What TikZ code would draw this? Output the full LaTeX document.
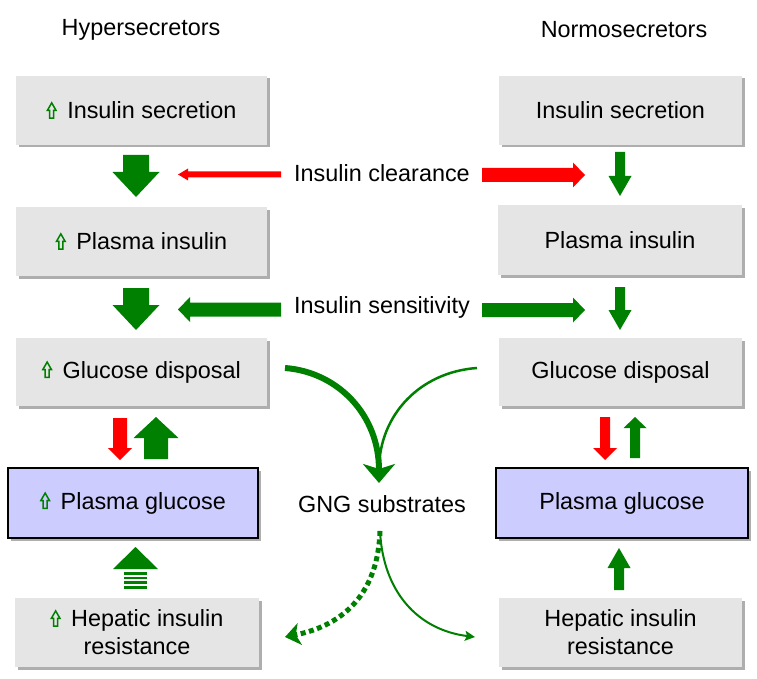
\documentclass[tikz,border=0pt]{standalone}
\usepackage{fontspec}
\setmainfont{Liberation Sans}
\usetikzlibrary{shadows,arrows.meta}
\definecolor{dgreen}{RGB}{0,128,0}
\definecolor{boxgray}{RGB}{229,229,229}
\definecolor{glublue}{RGB}{204,204,255}
\newcommand\uparr{\tikz[baseline=0pt,x=1pt,y=1pt]\draw[dgreen,line width=1.5pt,line join=miter] (-2,0.7)--(2,0.7)--(2,8.5)--(4.3,8.5)--(0,16)--(-4.3,8.5)--(-2,8.5)--cycle;\hspace{10.5pt}}
% style, tail, angle, length, shaft half-width, head half-width, head length
\newcommand\barrow[7]{\fill[#1,shift={#2},rotate=#3] (0,-#5) -- ({#4-#7},-#5) -- ({#4-#7},-#6) -- (#4,0) -- ({#4-#7},#6) -- ({#4-#7},#5) -- (0,#5) -- cycle;}
\begin{document}
\begin{tikzpicture}[x=1pt,y=-1pt,
  every node/.style={font=\fontsize{23.4}{28}\selectfont, inner sep=0pt, outer sep=0pt},
  box/.style={fill=boxgray, align=center, drop shadow={shadow xshift=2.5pt, shadow yshift=-2.5pt, opacity=0.45, fill=black!70}},
  gbox/.style={fill=glublue, draw=black, line width=2.6pt, align=center, drop shadow={shadow xshift=2.5pt, shadow yshift=-2.5pt, opacity=0.45, fill=black!70}}]
\useasboundingbox (0,0) rectangle (757,679);
% titles
\node (th) at (141,30) {Hypersecretors};
\node (tn) at (624,30) {Normosecretors};
% left column
\node[box, minimum width=251, minimum height=69] (ls) at (141.5,110.5) {\uparr Insulin secretion};
\node[box, minimum width=251, minimum height=69] (lpi) at (141.5,241.5) {\uparr Plasma insulin};
\node[box, minimum width=251, minimum height=68] (lgd) at (141.5,372) {\uparr Glucose disposal};
\node[gbox, minimum width=250, minimum height=70] (lpg) at (133,503) {\uparr Plasma glucose};
\node[box, minimum width=244, minimum height=69] (lhr) at (137,632.5) {\uparr Hepatic insulin\\resistance};
% right column
\node[box, minimum width=243, minimum height=69] (rs) at (620.5,110.5) {Insulin secretion};
\node[box, minimum width=244, minimum height=70] (rpi) at (620,240) {Plasma insulin};
\node[box, minimum width=243, minimum height=68] (rgd) at (620.5,372) {Glucose disposal};
\node[gbox, minimum width=252, minimum height=70] (rpg) at (622,503) {Plasma glucose};
\node[box, minimum width=243, minimum height=69] (rhr) at (620.5,632.5) {Hepatic insulin\\resistance};
% middle labels
\node (ic) at (382,173) {Insulin clearance};
\node (is) at (382,307) {Insulin sensitivity};
\node (gng) at (382,504) {GNG substrates};
% block arrows
\barrow{dgreen}{(136,155)}{-90}{42}{13}{23.5}{25}
\barrow{dgreen}{(136,288)}{-90}{42}{13}{23.5}{25}
\barrow{dgreen}{(620,152)}{-90}{44}{5}{11.5}{20}
\barrow{dgreen}{(620,287)}{-90}{43}{5}{11.5}{20}
\barrow{red}{(281,174.5)}{180}{103}{3}{6}{10}
\barrow{red}{(482,175)}{0}{103}{7}{12.5}{12}
\barrow{dgreen}{(281,309.5)}{180}{103}{7}{12.5}{12}
\barrow{dgreen}{(482,310)}{0}{103}{7}{12.5}{12}
\barrow{red}{(120,418)}{-90}{42}{7}{12}{12}
\barrow{dgreen}{(156,459)}{90}{42}{12}{22.5}{21}
\barrow{red}{(605,417)}{-90}{43}{5}{12}{12}
\barrow{dgreen}{(635,458)}{90}{41}{5}{11.5}{11}
\barrow{dgreen}{(619,590)}{90}{42}{5}{11.5}{20}
% striped arrow
\fill[dgreen] (113,569) -- (135.5,547) -- (158,569) -- cycle;
\foreach \yy in {572,576.5,581,586}{\fill[dgreen] (124,\yy) rectangle (147,\yy+2.5);}
% curved arrows
\coordinate (c1) at (285,368);
\coordinate (c2) at (477,368);
\coordinate (ct) at (379,483);
\coordinate (cm) at (379,470);
\coordinate (d0) at (380,531);
\coordinate (d1) at (285,637);
\coordinate (d2) at (475,637);
\draw[dgreen, line width=2.5pt] (c2) .. controls (420,372) and (379,415) .. (cm);
\draw[dgreen, line width=6pt, -{Stealth[length=19pt,width=32pt,inset=5pt]}] (c1) .. controls (338,372) and (379,415) .. (ct);
\draw[dgreen, line width=5pt, dash pattern=on 5pt off 3.5pt, -{Stealth[length=15pt,width=22pt,inset=4pt]}] (d0) .. controls (378,592) and (345,625) .. (d1);
\draw[dgreen, line width=2pt, -{Stealth[length=10pt,width=10pt,inset=2pt]}] (d0) .. controls (383,592) and (418,630) .. (d2);
\end{tikzpicture}
\end{document}
